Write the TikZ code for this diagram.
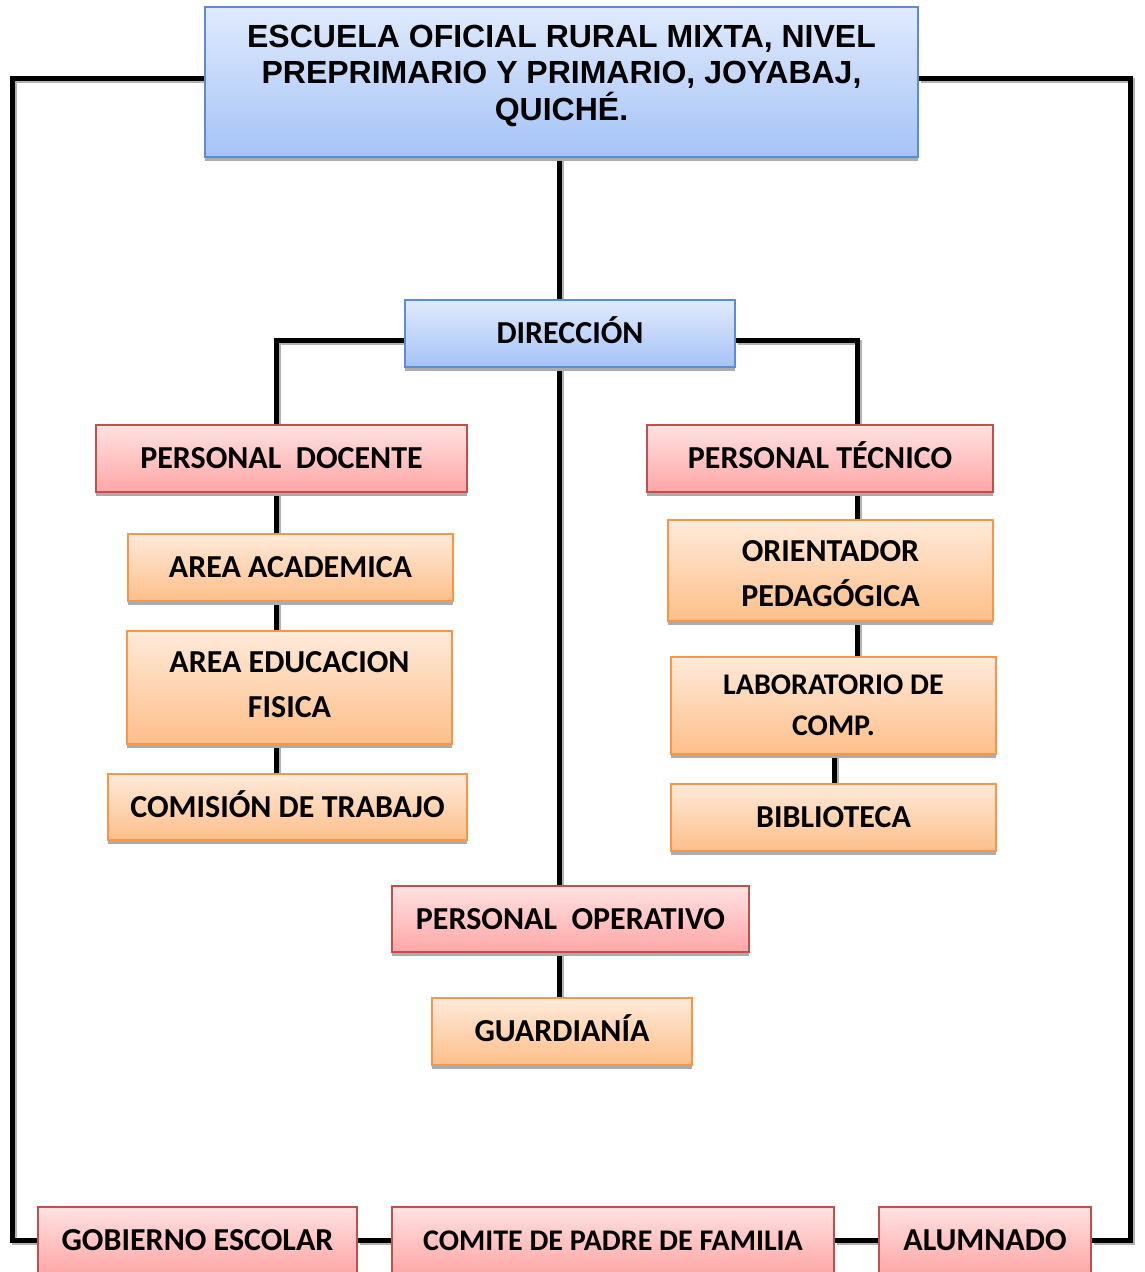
\documentclass[tikz,border=0pt]{standalone}
\usepackage{fontspec}
\setmainfont{Carlito}
\newfontfamily\arialfont{Liberation Sans}
\usetikzlibrary{shadows,backgrounds}
\definecolor{bluetop}{HTML}{E0EAFC}
\definecolor{bluebot}{HTML}{A5C3F7}
\definecolor{blueborder}{HTML}{5B8CD4}
\definecolor{redtop}{HTML}{FFE2E2}
\definecolor{redbot}{HTML}{FFA6A6}
\definecolor{redborder}{HTML}{C0504D}
\definecolor{orgtop}{HTML}{FFEADA}
\definecolor{orgbot}{HTML}{FDBF8A}
\definecolor{orgborder}{HTML}{F79646}
\tikzset{
  box/.style={line width=1.5pt, inner sep=0pt, align=center,
    font=\fontsize{32}{45}\selectfont\bfseries, text height=20.6pt, text depth=0pt,
    drop shadow={shadow xshift=0pt, shadow yshift=-4pt, fill=gray!65, opacity=1}},
  twolines/.style={text height=65.6pt},
  smalltext/.style={font=\fontsize{30}{41}\selectfont\bfseries, text height=19.3pt},
  bluebox/.style={box, draw=blueborder, top color=bluetop, bottom color=bluebot},
  redbox/.style={box, draw=redborder, top color=redtop, bottom color=redbot},
  orgbox/.style={box, draw=orgborder, top color=orgtop, bottom color=orgbot},
  sz/.style 2 args={minimum width=#1pt, minimum height=#2pt},
  conn/.style={line width=5pt, black},
  connshadow/.style={line width=5pt, gray!60, transform canvas={shift={(2pt,-2pt)}}},
}
\begin{document}
\begin{tikzpicture}[x=1pt,y=-1pt]
\useasboundingbox (0,0) rectangle (1145,1272);
% nodes
\node[bluebox, sz={713}{150}] (top) at (561.5,82) {};
\node[align=center, inner sep=0pt, text height=96pt, text depth=0pt,
  font=\arialfont\fontsize{32}{36.5}\selectfont\bfseries] (ttl) at (561.5,72)
  {ESCUELA OFICIAL RURAL MIXTA, NIVEL\\PREPRIMARIO Y PRIMARIO, JOYABAJ,\\QUICHÉ.};
\node[bluebox, sz={330}{67}] (dir) at (570,333.5) {DIRECCIÓN};
\node[redbox, sz={371}{67}] (pd) at (281.5,458.5) {PERSONAL\ \ DOCENTE};
\node[redbox, sz={346}{67}] (pt) at (820,458.5) {PERSONAL TÉCNICO};
\node[orgbox, sz={325}{67}] (aa) at (290.5,567.5) {AREA ACADEMICA};
\node[orgbox, sz={325}{113}, twolines, text depth=6pt] (aef) at (289.5,687.5) {AREA EDUCACION\\FISICA};
\node[orgbox, sz={359}{66}] (ct) at (287.5,807) {COMISIÓN DE TRABAJO};
\node[orgbox, sz={325}{101}, text height=71.6pt] (ori) at (830.5,570.5) {ORIENTADOR\\PEDAGÓGICA};
\node[orgbox, sz={325}{97}, smalltext, text height=60.3pt] (lab) at (833.5,705.5) {LABORATORIO DE\\COMP.};
\node[orgbox, sz={325}{67}] (bib) at (833.5,817.5) {BIBLIOTECA};
\node[redbox, sz={357}{66}] (po) at (570.5,919) {PERSONAL\ \ OPERATIVO};
\node[orgbox, sz={260}{67}] (gua) at (562,1031.5) {GUARDIANÍA};
\node[redbox, sz={319}{67}] (gob) at (197.5,1240.5) {GOBIERNO ESCOLAR};
\node[redbox, sz={442}{67}, smalltext] (com) at (613,1240.5) {COMITE DE PADRE DE FAMILIA};
\node[redbox, sz={212}{67}] (alu) at (985,1240.5) {ALUMNADO};
% helper coordinates
\coordinate (cx) at (559,0);
\coordinate (cl) at (276,340);
\coordinate (cr) at (857,340);
\coordinate (cb) at (834,0);
\coordinate (lt) at (12,78);
\coordinate (rt) at (1130,78);
\coordinate (by) at (0,1240);
\begin{scope}[on background layer]
\foreach \s in {connshadow,conn}{
  \draw[\s] (top.south -| cx) -- (po.north -| cx);
  \draw[\s] (po.south -| cx) -- (gua.north -| cx);
  \draw[\s] (dir.west |- cl) -- (cl) -- (cl |- pd.north);
  \draw[\s] (dir.east |- cr) -- (cr) -- (cr |- pt.north);
  \draw[\s] (pd.south -| cl) -- (aa.north -| cl);
  \draw[\s] (aa.south -| cl) -- (aef.north -| cl);
  \draw[\s] (aef.south -| cl) -- (ct.north -| cl);
  \draw[\s] (pt.south -| cr) -- (ori.north -| cr);
  \draw[\s] (ori.south -| cr) -- (lab.north -| cr);
  \draw[\s] (lab.south -| cb) -- (bib.north -| cb);
  \draw[\s] (top.west |- lt) -- (lt) -- (lt |- by) -- (gob.west |- by);
  \draw[\s] (top.east |- rt) -- (rt) -- (rt |- by) -- (alu.east |- by);
  \draw[\s] (gob.east |- by) -- (com.west |- by);
  \draw[\s] (com.east |- by) -- (alu.west |- by);
}
\end{scope}
\end{tikzpicture}
\end{document}
